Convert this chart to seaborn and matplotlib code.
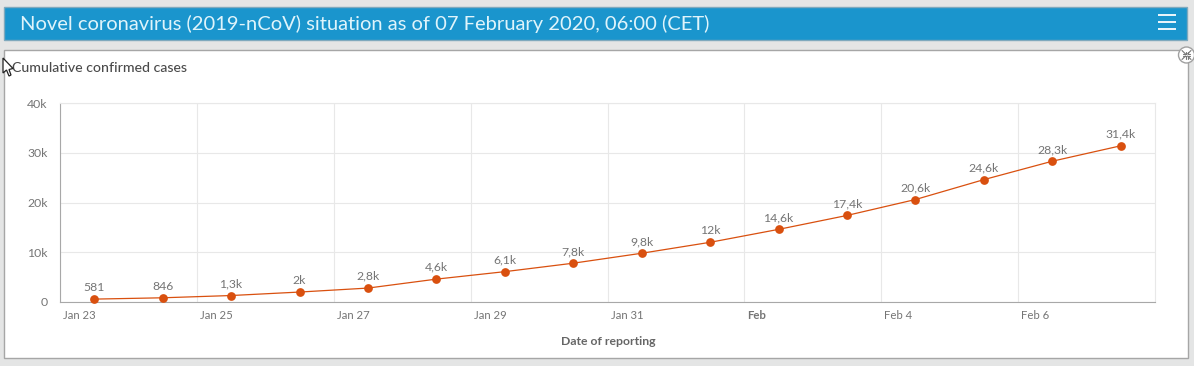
import matplotlib
matplotlib.use("Agg")
import matplotlib.pyplot as plt
from matplotlib.patches import Rectangle, Polygon, Circle
import pandas as pd
import seaborn as sns

W, H = 1194, 366

report_dates = pd.date_range("2020-01-23 12:00", periods=16, freq="D")
cases = [581, 846, 1300, 2000, 2800, 4600, 6100, 7800, 9800, 12000,
         14600, 17400, 20600, 24600, 28300, 31400]
point_labels = ["581", "846", "1,3k", "2k", "2,8k", "4,6k", "6,1k", "7,8k", "9,8k", "12k",
                "14,6k", "17,4k", "20,6k", "24,6k", "28,3k", "31,4k"]
x_ticks = pd.to_datetime(["2020-01-23", "2020-01-25", "2020-01-27", "2020-01-29",
                          "2020-01-31", "2020-02-02", "2020-02-04", "2020-02-06"])
x_tick_labels = ["Jan 23", "Jan 25", "Jan 27", "Jan 29", "Jan 31", "Feb", "Feb 4", "Feb 6"]
y_ticks = [0, 10000, 20000, 30000, 40000]
y_tick_labels = ["0", "10k", "20k", "30k", "40k"]

TEXT = "#757575"
GRID = "#e8e8e8"
AXIS = "#a8a8a8"
ORANGE = "#d9500f"

sns.set_theme(style="white")
plt.rcParams["font.family"] = ["Lato", "DejaVu Sans"]

fig = plt.figure(figsize=(W / 100, H / 100), dpi=100, facecolor="#e4e5e5")

# page furniture in pixel coordinates
bg = fig.add_axes([0, 0, 1, 1], zorder=0)
bg.set_xlim(0, W)
bg.set_ylim(H, 0)
bg.axis("off")
bg.add_patch(Rectangle((4, 6.5), 1183, 33, fc="#1a95cd", ec="#7fa9bd", lw=1))
bg.text(20, 24, "Novel coronavirus (2019-nCoV) situation as of 07 February 2020, 06:00 (CET)",
        color="#dff4fb", fontsize=14.5, va="center", ha="left")
for y in (15, 22, 29):
    bg.plot([1158, 1176], [y, y], color="white", lw=1.3, solid_capstyle="butt")
bg.add_patch(Rectangle((4, 50), 1184, 308, fc="white", ec="#a6a6a6", lw=1))
bg.text(12, 67.5, "Cumulative confirmed cases", color="#4a4a4a", fontsize=10.2, va="center",
        fontweight="medium")

# chart
ax = fig.add_axes([60 / W, 1 - 302 / H, (1155 - 60) / W, (302 - 103) / H], zorder=2)
ax.patch.set_alpha(0)
sns.lineplot(x=report_dates, y=cases, ax=ax, color=ORANGE, lw=0.9, marker="o", markersize=6.3,
             markeredgewidth=0, zorder=4, clip_on=False)
ax.set_xlim(pd.Timestamp("2020-01-23"), pd.Timestamp("2020-02-08"))
ax.set_ylim(0, 40000)

ax.set_yticks(y_ticks)
ax.set_yticklabels(y_tick_labels)
ax.set_xticks(x_ticks)
ax.set_xticklabels(x_tick_labels, ha="left")
ax.grid(True, which="major", axis="both", color=GRID, lw=0.8)
ax.set_axisbelow(True)
ax.tick_params(axis="x", which="major", length=5, width=0.8, color=AXIS, labelsize=8.2,
               labelcolor=TEXT, pad=1)
ax.tick_params(axis="y", which="major", length=6, width=0.8, color=AXIS, labelsize=8.8,
               labelcolor=TEXT, pad=3)
for lab in ax.get_xticklabels():
    if lab.get_text() == "Feb":
        lab.set_fontweight("bold")
for side in ("top", "right"):
    ax.spines[side].set_color(GRID)
    ax.spines[side].set_linewidth(0.8)
for side in ("left", "bottom"):
    ax.spines[side].set_color(AXIS)
    ax.spines[side].set_linewidth(0.8)
ax.set_xlabel("")
ax.set_ylabel("")

# tick labels start a little right of their tick
offset = matplotlib.transforms.ScaledTranslation(2.2 / 72, 0, fig.dpi_scale_trans)
for lab in ax.get_xticklabels():
    lab.set_transform(lab.get_transform() + offset)

for d, v, s in zip(report_dates, cases, point_labels):
    ax.annotate(s, (d, v), xytext=(0, 4.5), textcoords="offset points", ha="center", va="bottom",
                fontsize=8.8, color=TEXT, zorder=5)

bg.text(608, 341.5, "Date of reporting", color="#666666", fontsize=8.8, ha="center", va="center",
        fontweight="bold")

# cursor and the collapse icon sit on top
top = fig.add_axes([0, 0, 1, 1], zorder=3)
top.set_xlim(0, W)
top.set_ylim(H, 0)
top.axis("off")
top.patch.set_alpha(0)
top.add_patch(Polygon([(3, 58), (3, 73), (6.5, 70), (9, 76), (11, 75), (9, 69.5), (13, 68.5)],
                      fc="white", ec="#222222", lw=0.9))
top.add_patch(Circle((1186.5, 55), 8, fc="white", ec="#a0a0a0", lw=1))
for sx in (-1, 1):
    for sy in (-1, 1):
        cx, cy = 1186.5 + sx * 1, 55 + sy * 1
        top.plot([cx + sx * 3.5, cx], [cy + sy * 3.5, cy], color="#777777", lw=0.8)
        top.plot([cx, cx + sx * 2.5], [cy, cy], color="#777777", lw=0.8)
        top.plot([cx, cx], [cy, cy + sy * 2.5], color="#777777", lw=0.8)

fig.savefig("out.png", dpi=100, facecolor=fig.get_facecolor())
